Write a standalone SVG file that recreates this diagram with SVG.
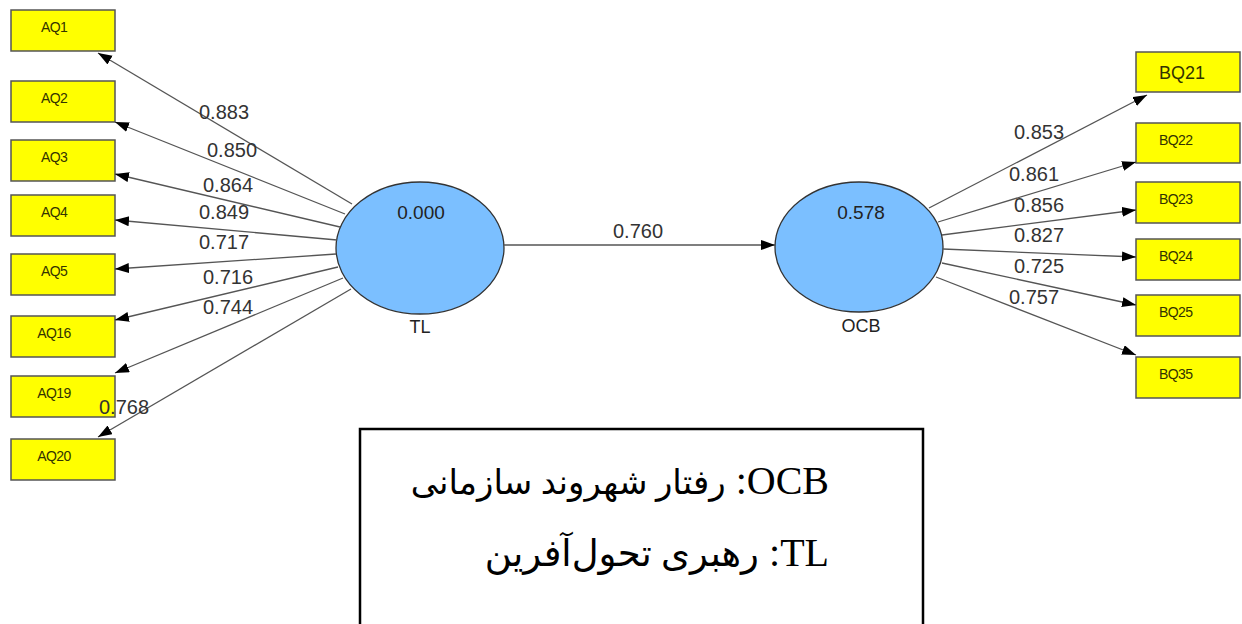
<svg xmlns="http://www.w3.org/2000/svg" width="1242" height="624" viewBox="0 0 1242 624">
<style>
.box{fill:#ffff00;stroke:#555;stroke-width:1.5}
.bl{font-family:"Liberation Sans",Arial,sans-serif;font-size:14px;fill:#333300;letter-spacing:-0.6px}
.lv{fill:#7bbfff;stroke:#333;stroke-width:1.3}
.val{font-family:"Liberation Sans",Arial,sans-serif;font-size:19px;fill:#222;text-anchor:middle}
.nm{font-family:"Liberation Sans",Arial,sans-serif;font-size:18px;fill:#222;text-anchor:middle}
.ld{font-family:"Liberation Sans",Arial,sans-serif;font-size:20px;fill:#333;text-anchor:middle}
.edge{stroke:#555;stroke-width:1.3;fill:none;marker-end:url(#ah)}
.leg{font-family:"Liberation Serif","DejaVu Serif","DejaVu Sans",serif;font-size:40px;fill:#000}
</style>
<defs>
<marker id="ah" markerUnits="userSpaceOnUse" markerWidth="16" markerHeight="12" refX="14" refY="5" orient="auto">
<path d="M0,0 L14,5 L0,10 z" fill="#000"/>
</marker>
</defs>
<rect width="1242" height="624" fill="#fff"/>
<g id="AQ1"><rect class="box" x="11" y="10" width="104" height="41"/><text class="bl" x="54" y="32" text-anchor="middle">AQ1</text></g>
<g id="AQ2"><rect class="box" x="11" y="81" width="104" height="41"/><text class="bl" x="54" y="103" text-anchor="middle">AQ2</text></g>
<g id="AQ3"><rect class="box" x="11" y="140" width="104" height="41"/><text class="bl" x="54" y="162" text-anchor="middle">AQ3</text></g>
<g id="AQ4"><rect class="box" x="11" y="195" width="104" height="41"/><text class="bl" x="54" y="217" text-anchor="middle">AQ4</text></g>
<g id="AQ5"><rect class="box" x="11" y="254" width="104" height="41"/><text class="bl" x="54" y="276" text-anchor="middle">AQ5</text></g>
<g id="AQ16"><rect class="box" x="11" y="316" width="104" height="41"/><text class="bl" x="54" y="338" text-anchor="middle">AQ16</text></g>
<g id="AQ19"><rect class="box" x="11" y="376" width="104" height="41"/><text class="bl" x="54" y="398" text-anchor="middle">AQ19</text></g>
<g id="AQ20"><rect class="box" x="11" y="439" width="104" height="41"/><text class="bl" x="54" y="461" text-anchor="middle">AQ20</text></g>
<g id="BQ21"><rect class="box" x="1136" y="52" width="104" height="40"/><text class="bl" x="1159" y="79" style="font-size:18px;letter-spacing:0">BQ21</text></g>
<g id="BQ22"><rect class="box" x="1136" y="123" width="104" height="40"/><text class="bl" x="1159" y="145">BQ22</text></g>
<g id="BQ23"><rect class="box" x="1136" y="182" width="104" height="41"/><text class="bl" x="1159" y="204">BQ23</text></g>
<g id="BQ24"><rect class="box" x="1136" y="239" width="104" height="41"/><text class="bl" x="1159" y="261">BQ24</text></g>
<g id="BQ25"><rect class="box" x="1136" y="295" width="104" height="41"/><text class="bl" x="1159" y="317">BQ25</text></g>
<g id="BQ35"><rect class="box" x="1136" y="357" width="104" height="41"/><text class="bl" x="1159" y="379">BQ35</text></g>
<g id="TL"><ellipse class="lv" cx="420" cy="248" rx="84" ry="66"/><text class="val" x="421" y="219">0.000</text><text class="nm" x="420" y="333">TL</text></g>
<g id="OCB"><ellipse class="lv" cx="859" cy="247" rx="84" ry="65"/><text class="val" x="861" y="219">0.578</text><text class="nm" x="861" y="332">OCB</text></g>
<g id="connectors">
<line class="edge" x1="352" y1="204" x2="98" y2="53"/>
<line class="edge" x1="345" y1="214" x2="115" y2="122"/>
<line class="edge" x1="340" y1="227" x2="115" y2="174"/>
<line class="edge" x1="337" y1="240" x2="115" y2="220"/>
<line class="edge" x1="336" y1="254" x2="115" y2="269"/>
<line class="edge" x1="338" y1="267" x2="115" y2="320"/>
<line class="edge" x1="343" y1="278" x2="115" y2="373"/>
<line class="edge" x1="351" y1="289" x2="98" y2="437"/>
<line class="edge" x1="504" y1="245" x2="775" y2="245"/>
<line class="edge" x1="929" y1="208" x2="1147" y2="95"/>
<line class="edge" x1="938" y1="222" x2="1136" y2="162"/>
<line class="edge" x1="942" y1="235" x2="1136" y2="210"/>
<line class="edge" x1="943" y1="249" x2="1136" y2="257"/>
<line class="edge" x1="942" y1="263" x2="1136" y2="305"/>
<line class="edge" x1="936" y1="277" x2="1136" y2="355"/>
<text class="ld" x="224" y="119">0.883</text>
<text class="ld" x="232" y="157">0.850</text>
<text class="ld" x="228" y="192">0.864</text>
<text class="ld" x="224" y="219">0.849</text>
<text class="ld" x="224" y="249">0.717</text>
<text class="ld" x="228" y="284">0.716</text>
<text class="ld" x="228" y="314">0.744</text>
<text class="ld" x="124" y="414">0.768</text>
<text class="ld" x="638" y="238">0.760</text>
<text class="ld" x="1039" y="139">0.853</text>
<text class="ld" x="1034" y="181">0.861</text>
<text class="ld" x="1039" y="212">0.856</text>
<text class="ld" x="1039" y="242">0.827</text>
<text class="ld" x="1039" y="273">0.725</text>
<text class="ld" x="1034" y="304">0.757</text>
</g>
<g id="legend">
<path d="M360,640 L360,429 L923,429 L923,640" fill="none" stroke="#000" stroke-width="2.5"/>
<text class="leg" x="829" y="494" direction="rtl" text-anchor="start">OCB: <tspan style="font-size:34px">رفتار شهروند سازمانی</tspan></text>
<text class="leg" x="829" y="566" direction="rtl" text-anchor="start">TL: <tspan style="font-size:37px">رهبری تحول‌آفرین</tspan></text>
</g>
</svg>
